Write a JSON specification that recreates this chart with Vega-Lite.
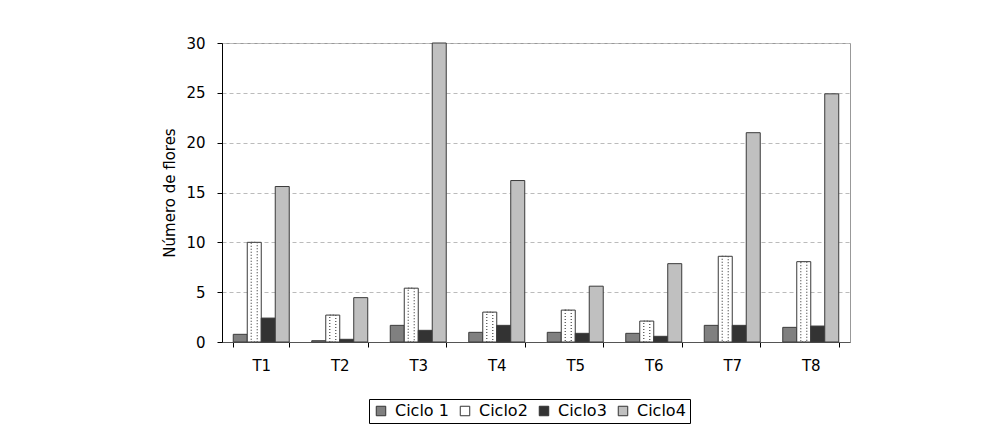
{
  "$schema": "https://vega.github.io/schema/vega-lite/v6.json",
  "width": 628,
  "height": 299,
  "autosize": {"type": "none"},
  "padding": {"left": 222, "top": 43, "right": 132, "bottom": 88},
  "background": "white",
  "config": {
    "font": "DejaVu Sans",
    "view": {"stroke": "#999999", "strokeWidth": 1},
    "axis": {"labelFont": "DejaVu Sans", "titleFont": "DejaVu Sans", "labelColor": "#000000", "titleColor": "#000000"},
    "legend": {"labelFont": "DejaVu Sans"}
  },
  "data": {
    "values": [
      {"T": "T1", "ciclo": "Ciclo 1", "valor": 0.77},
      {"T": "T1", "ciclo": "Ciclo2", "valor": 10.0},
      {"T": "T1", "ciclo": "Ciclo3", "valor": 2.4},
      {"T": "T1", "ciclo": "Ciclo4", "valor": 15.6},
      {"T": "T2", "ciclo": "Ciclo 1", "valor": 0.13},
      {"T": "T2", "ciclo": "Ciclo2", "valor": 2.7},
      {"T": "T2", "ciclo": "Ciclo3", "valor": 0.27},
      {"T": "T2", "ciclo": "Ciclo4", "valor": 4.45},
      {"T": "T3", "ciclo": "Ciclo 1", "valor": 1.67},
      {"T": "T3", "ciclo": "Ciclo2", "valor": 5.4},
      {"T": "T3", "ciclo": "Ciclo3", "valor": 1.17},
      {"T": "T3", "ciclo": "Ciclo4", "valor": 30.0},
      {"T": "T4", "ciclo": "Ciclo 1", "valor": 0.97},
      {"T": "T4", "ciclo": "Ciclo2", "valor": 3.0},
      {"T": "T4", "ciclo": "Ciclo3", "valor": 1.67},
      {"T": "T4", "ciclo": "Ciclo4", "valor": 16.2},
      {"T": "T5", "ciclo": "Ciclo 1", "valor": 0.97},
      {"T": "T5", "ciclo": "Ciclo2", "valor": 3.2},
      {"T": "T5", "ciclo": "Ciclo3", "valor": 0.87},
      {"T": "T5", "ciclo": "Ciclo4", "valor": 5.6},
      {"T": "T6", "ciclo": "Ciclo 1", "valor": 0.87},
      {"T": "T6", "ciclo": "Ciclo2", "valor": 2.1},
      {"T": "T6", "ciclo": "Ciclo3", "valor": 0.57},
      {"T": "T6", "ciclo": "Ciclo4", "valor": 7.86},
      {"T": "T7", "ciclo": "Ciclo 1", "valor": 1.67},
      {"T": "T7", "ciclo": "Ciclo2", "valor": 8.6},
      {"T": "T7", "ciclo": "Ciclo3", "valor": 1.67},
      {"T": "T7", "ciclo": "Ciclo4", "valor": 21.0},
      {"T": "T8", "ciclo": "Ciclo 1", "valor": 1.47},
      {"T": "T8", "ciclo": "Ciclo2", "valor": 8.06},
      {"T": "T8", "ciclo": "Ciclo3", "valor": 1.6},
      {"T": "T8", "ciclo": "Ciclo4", "valor": 24.9}
    ]
  },
  "layer": [
    {
      "mark": {"type": "bar", "stroke": "#3a3a3a", "strokeWidth": 1},
      "encoding": {
        "x": {
          "field": "T", "type": "nominal",
          "scale": {"paddingInner": 0.287, "paddingOuter": 0.1435},
          "axis": {"title": null, "labelAngle": 0, "tickBand": "extent", "tickSize": 5, "tickColor": "#000000", "domainColor": "#555555", "labelFontSize": 15, "labelPadding": 11}
        },
        "xOffset": {"field": "ciclo", "type": "nominal", "scale": {"paddingInner": 0, "paddingOuter": 0}},
        "y": {
          "field": "valor", "type": "quantitative",
          "scale": {"domain": [0, 30], "nice": false},
          "axis": {"title": "Número de flores", "values": [0, 5, 10, 15, 20, 25, 30], "tickSize": 5, "tickColor": "#000000", "domainColor": "#000000", "gridColor": "#bbbbbb", "gridDash": [4, 3], "labelFontSize": 15, "labelPadding": 12, "titleFontSize": 15, "titleFontWeight": "normal", "titlePadding": 8}
        },
        "fill": {
          "field": "ciclo", "type": "nominal",
          "scale": {"domain": ["Ciclo 1", "Ciclo2", "Ciclo3", "Ciclo4"], "range": ["#808080", "#ffffff", "#333333", "#c0c0c0"]},
          "legend": {"title": null, "orient": "none", "legendX": 147, "legendY": 356, "direction": "horizontal", "columns": 4, "symbolType": "square", "symbolSize": 90, "symbolStrokeColor": "#333333", "symbolStrokeWidth": 1, "labelFontSize": 16, "labelColor": "#000000", "strokeColor": "#000000", "fillColor": "#ffffff", "padding": 4, "columnPadding": 8, "symbolOffset": 0, "labelOffset": 6}
        }
      }
    },
    {
      "transform": [{"filter": "datum.ciclo === 'Ciclo2'"}],
      "mark": {"type": "bar", "width": 6, "fill": "transparent", "stroke": "#555555", "strokeDash": [1, 2], "strokeWidth": 1.3},
      "encoding": {
        "x": {"field": "T", "type": "nominal"},
        "xOffset": {"field": "ciclo", "type": "nominal"},
        "y": {"field": "valor", "type": "quantitative"}
      }
    }
  ]
}
